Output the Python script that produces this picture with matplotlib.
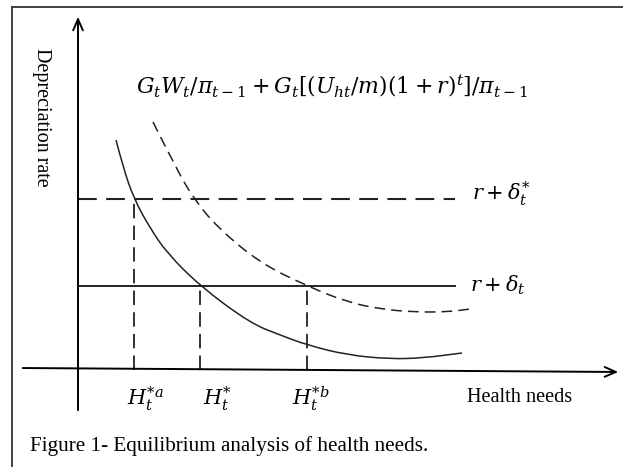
import matplotlib
matplotlib.use("Agg")
import matplotlib.pyplot as plt
from matplotlib.path import Path
from matplotlib.patches import PathPatch

plt.rcParams['mathtext.fontset'] = 'dejavuserif'
plt.rcParams['font.family'] = ['Liberation Serif', 'DejaVu Serif']

# marginal cost curves (health needs vs depreciation rate), origin at axes crossing
base_x = [38, 45, 56, 72, 89, 122, 172, 202, 229, 269, 312, 345, 384]
base_y = [230, 203, 171, 142, 117, 84, 47, 35, 25, 15, 11, 12, 17]
shift_x = [75, 99, 116, 139, 182, 229, 269, 302, 335, 369, 392]
shift_y = [248, 200, 171, 143, 107, 84, 68, 61, 58, 58, 61]

# interest + depreciation levels
rate_star = 171
rate = 84
rate_end = 377

# equilibrium health needs
h_a, h_0, h_b = 56, 122, 229

formula = r'$G_tW_t/\pi_{t-1}+G_t[(U_{ht}/m)(1+r)^t]/\pi_{t-1}$'
h_labels = [r'$H_t^{*a}$', r'$H_t^{*}$', r'$H_t^{*b}$']
caption = "Figure 1- Equilibrium analysis of health needs."


def smooth_curve(xs, ys):
    # quadratic bezier pieces through midpoints, points act as controls
    pts = list(zip(xs, ys))
    verts = [pts[0]]
    codes = [Path.MOVETO]
    for i in range(1, len(pts) - 1):
        mid = ((pts[i][0] + pts[i + 1][0]) / 2, (pts[i][1] + pts[i + 1][1]) / 2)
        verts += [pts[i], mid]
        codes += [Path.CURVE3, Path.CURVE3]
    verts.append(pts[-1])
    codes.append(Path.LINETO)
    return Path(verts, codes)


fig = plt.figure(figsize=(6.23, 4.67), dpi=100)
ax = fig.add_axes([0, 0, 1, 1])
ax.set_xlim(-78, 545)
ax.set_ylim(-97, 370)
ax.axis('off')

# frame
ax.plot([-66, -66], [-97, 363], color='#333333', lw=1.3)
ax.plot([-66, 545], [363, 363], color='#333333', lw=1.3)

# axes with open arrow heads
ax.annotate('', xy=(0, 356), xytext=(0, -43),
            arrowprops=dict(arrowstyle='->,head_length=0.8,head_width=0.35', lw=1.4, color='black'))
ax.annotate('', xy=(543, -2), xytext=(-58, 2),
            arrowprops=dict(arrowstyle='->,head_length=0.8,head_width=0.35', lw=1.4, color='black'))

# horizontal rate lines
ax.plot([0, rate_end], [rate_star, rate_star], color='#222222', lw=1.5, ls=(0, (9, 4.5)))
ax.plot([0, rate_end], [rate, rate], color='#222222', lw=1.4)

# vertical dashed drop lines
for hx, hy in [(h_a, rate_star), (h_0, rate), (h_b, rate)]:
    ax.plot([hx, hx], [0, hy], color='#222222', lw=1.3, ls=(0, (8, 4)))

# curves
ax.add_patch(PathPatch(smooth_curve(base_x, base_y), fill=False, ec='#222222', lw=1.1))
ax.add_patch(PathPatch(smooth_curve(shift_x, shift_y), fill=False, ec='#222222', lw=1.1,
                       ls=(0, (7, 4))))

# labels
ax.text(254, 284, formula, fontsize=15.8, ha='center', va='center')
ax.text(394, 176, r'$r+\delta_t^{*}$', fontsize=15, ha='left', va='center')
ax.text(392, 85, r'$r+\delta_t$', fontsize=15, ha='left', va='center')
ax.text(-37, 253, 'Depreciation rate', fontsize=14.5, rotation=-90, ha='center', va='center')
for hx, lab in zip([68, 140, 233], h_labels):
    ax.text(hx, -29, lab, fontsize=15, ha='center', va='center')
ax.text(389, -28, 'Health needs', fontsize=14.6, ha='left', va='center')
ax.text(-48, -76, caption, fontsize=15.2, ha='left', va='center')

fig.savefig('out.png', dpi=100)
